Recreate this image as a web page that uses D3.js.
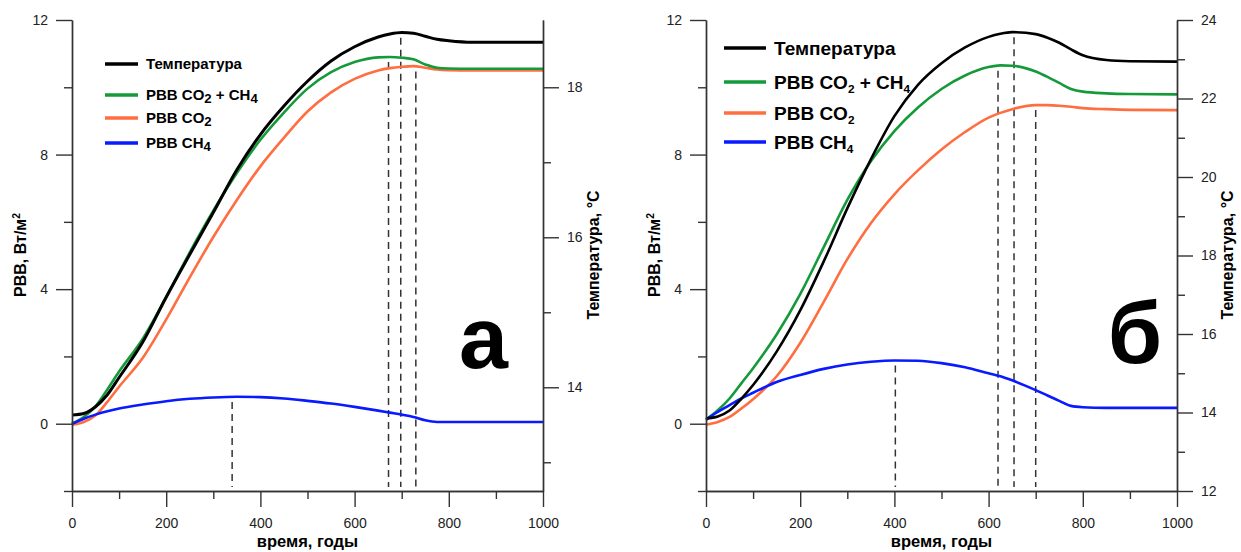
<!DOCTYPE html>
<html>
<head>
<meta charset="utf-8">
<script src="https://cdn.jsdelivr.net/npm/d3@7"></script>
<style>
body { margin: 0; background: #fff; }
svg { font-family: "Liberation Sans", Arial, sans-serif; }
</style>
</head>
<body>
<div id="chart"></div>
<script>
// panel а
var yearsA = [0, 25, 50, 75, 100, 150, 200, 250, 300, 350, 400, 450, 500, 550, 600, 650, 675, 700, 725, 750, 775, 800, 850, 900, 1000];
var tempA = [13.63, 13.65, 13.74, 13.9, 14.13, 14.6, 15.2, 15.77, 16.33, 16.9, 17.37, 17.75, 18.08, 18.35, 18.54, 18.67, 18.71, 18.73, 18.72, 18.68, 18.64, 18.62, 18.6, 18.6, 18.6];
var sumA = [0, 0.2, 0.52, 1.02, 1.55, 2.52, 3.77, 5.09, 6.33, 7.45, 8.44, 9.25, 9.96, 10.45, 10.75, 10.89, 10.9, 10.88, 10.83, 10.68, 10.58, 10.56, 10.55, 10.55, 10.55];
var co2A = [-0.03, 0.05, 0.25, 0.65, 1.1, 1.95, 3.1, 4.35, 5.55, 6.65, 7.65, 8.5, 9.28, 9.85, 10.25, 10.5, 10.57, 10.61, 10.63, 10.58, 10.53, 10.51, 10.5, 10.5, 10.5];
var ch4A = [0, 0.15, 0.27, 0.37, 0.45, 0.57, 0.67, 0.74, 0.78, 0.8, 0.79, 0.75, 0.68, 0.6, 0.5, 0.39, 0.33, 0.27, 0.2, 0.1, 0.05, 0.05, 0.05, 0.05, 0.05];
var markYearsA = [340, 672, 698, 730];
var markSeriesA = ["ch4", "sum", "temp", "co2"];

// panel б
var yearsB = [0, 25, 50, 75, 100, 150, 200, 250, 300, 350, 400, 450, 500, 550, 600, 625, 650, 700, 725, 750, 775, 800, 850, 900, 1000];
var tempB = [13.85, 13.9, 14.05, 14.35, 14.7, 15.55, 16.6, 17.85, 19.2, 20.45, 21.55, 22.35, 22.9, 23.3, 23.57, 23.65, 23.69, 23.64, 23.55, 23.42, 23.25, 23.1, 22.98, 22.95, 22.94];
var sumB = [0.12, 0.4, 0.75, 1.2, 1.65, 2.65, 3.85, 5.25, 6.65, 7.8, 8.7, 9.4, 9.95, 10.35, 10.6, 10.65, 10.64, 10.47, 10.31, 10.13, 9.95, 9.87, 9.82, 9.8, 9.79];
var co2B = [-0.03, 0.05, 0.2, 0.45, 0.73, 1.41, 2.4, 3.62, 4.89, 5.96, 6.82, 7.53, 8.15, 8.67, 9.1, 9.24, 9.35, 9.47, 9.47, 9.45, 9.42, 9.38, 9.35, 9.33, 9.32];
var ch4B = [0.12, 0.35, 0.55, 0.75, 0.92, 1.24, 1.45, 1.63, 1.76, 1.84, 1.88, 1.87, 1.8, 1.68, 1.5, 1.41, 1.29, 1.0, 0.84, 0.68, 0.53, 0.49, 0.47, 0.47, 0.47];
var markYearsB = [402, 620, 654, 700];
var markSeriesB = ["ch4", "sum", "temp", "co2"];

// axes
var xTicks = [0, 200, 400, 600, 800, 1000];
var xMinor = [100, 300, 500, 700, 900];
var rvvTicks = [0, 4, 8, 12];
var rvvMinor = [-2, 2, 6, 10];
var tempTicksA = [14, 16, 18];
var tempMinorA = [13, 15, 17];
var tempTicksB = [12, 14, 16, 18, 20, 22, 24];
var tempMinorB = [13, 15, 17, 19, 21, 23];

var colors = { temp: "#000000", sum: "#159a3a", co2: "#ff6e40", ch4: "#0a1aff" };

var W = 1241, H = 552;
var svg = d3.select("#chart").append("svg").attr("width", W).attr("height", H);
var fmt = d3.format("d");

function styleAxis(g) {
	g.attr("font-family", null).attr("font-size", null);
	g.selectAll("path, line").attr("stroke", "#333").attr("stroke-width", 1.4);
	g.selectAll("text").attr("font-size", 14).attr("fill", "#222");
}

// legend text with lowered subscripts
function legendLabel(text, parts, small) {
	var shift = small ? 4 : 3;
	var lowered = false;
	parts.forEach(function(p) {
		var ts = text.append("tspan").text(p.t);
		if (p.sub) {
			ts.attr("font-size", small ? "62%" : "88%").attr("dy", shift);
			lowered = true;
		} else if (lowered) {
			ts.attr("dy", -shift);
			lowered = false;
		}
	});
}

function drawPanel(p) {
	var x = d3.scaleLinear().domain([0, 1000]).range([p.left, p.left + 471]);
	var y = d3.scaleLinear().domain([-2, 12]).range([491, 20]);
	var yt = d3.scaleLinear().domain(p.tempDomain).range([491, 20]);
	var g = svg.append("g");

	var series = { temp: p.temp, sum: p.sum, co2: p.co2, ch4: p.ch4 };

	// dashed markers
	p.markYears.forEach(function(yr, i) {
		var key = p.markSeries[i];
		var interp = d3.scaleLinear().domain(p.years).range(series[key]);
		var top = key == "temp" ? yt(interp(yr)) : y(interp(yr));
		g.append("line")
			.attr("x1", x(yr)).attr("x2", x(yr))
			.attr("y1", top + 5).attr("y2", 487)
			.attr("stroke", "#333").attr("stroke-width", 1.5)
			.attr("stroke-dasharray", "7,5");
	});

	// curves
	["co2", "sum", "ch4", "temp"].forEach(function(key) {
		var sc = key == "temp" ? yt : y;
		var line = d3.line()
			.x(function(d, i) { return x(p.years[i]); })
			.y(function(d) { return sc(d); })
			.curve(d3.curveMonotoneX);
		g.append("path")
			.attr("d", line(series[key]))
			.attr("fill", "none")
			.attr("stroke", colors[key])
			.attr("stroke-width", key == "temp" && p.noisy ? 3 : 2.6)
			.attr("stroke-linejoin", "round");
	});

	// axes
	g.append("g").attr("transform", "translate(0,491)")
		.call(d3.axisBottom(x).tickValues(xMinor).tickSize(8).tickFormat("").tickSizeOuter(0)).call(styleAxis);
	g.append("g").attr("transform", "translate(0,491)")
		.call(d3.axisBottom(x).tickValues(xTicks).tickSize(16).tickPadding(11).tickFormat(fmt).tickSizeOuter(0)).call(styleAxis);
	g.append("g").attr("transform", "translate(" + p.left + ",0)")
		.call(d3.axisLeft(y).tickValues(rvvMinor).tickSize(8).tickFormat("").tickSizeOuter(0)).call(styleAxis);
	g.append("g").attr("transform", "translate(" + p.left + ",0)")
		.call(d3.axisLeft(y).tickValues(rvvTicks).tickSize(16).tickPadding(8).tickFormat(fmt).tickSizeOuter(0)).call(styleAxis);
	g.append("g").attr("transform", "translate(" + (p.left + 471) + ",0)")
		.call(d3.axisRight(yt).tickValues(p.tempMinor).tickSize(8).tickFormat("").tickSizeOuter(0)).call(styleAxis);
	g.append("g").attr("transform", "translate(" + (p.left + 471) + ",0)")
		.call(d3.axisRight(yt).tickValues(p.tempTicks).tickSize(16).tickPadding(8).tickFormat(fmt).tickSizeOuter(0)).call(styleAxis);

	// axis titles
	g.append("text")
		.attr("x", p.left + 235.5).attr("y", 547)
		.attr("text-anchor", "middle").attr("font-weight", "bold").attr("font-size", 16.5)
		.text("время, годы");
	var lt = g.append("text")
		.attr("transform", "translate(" + (p.left - 46) + ",255) rotate(-90)")
		.attr("text-anchor", "middle").attr("font-weight", "bold").attr("font-size", 16);
	lt.append("tspan").text("РВВ, Вт/м");
	lt.append("tspan").attr("font-size", "65%").attr("dy", -6).text("2");
	g.append("text")
		.attr("transform", "translate(" + (p.left + 527) + ",255) rotate(-90)")
		.attr("text-anchor", "middle").attr("font-weight", "bold").attr("font-size", 16)
		.text("Температура, °C");

	// panel letter
	g.append("text")
		.attr("x", p.letterX).attr("y", p.letterY)
		.attr("text-anchor", "end").attr("font-weight", "bold").attr("font-size", 88)
		.text(p.letter);

	// legend
	var labels = [
		[{ t: "Температура" }],
		[{ t: "РВВ CO" }, { t: "2", sub: true }, { t: " + CH" }, { t: "4", sub: true }],
		[{ t: "РВВ CO" }, { t: "2", sub: true }],
		[{ t: "РВВ CH" }, { t: "4", sub: true }]
	];
	var keys = ["temp", "sum", "co2", "ch4"];
	keys.forEach(function(key, i) {
		var ly = p.legY[i];
		g.append("line")
			.attr("x1", p.legX).attr("x2", p.legX + p.legLen)
			.attr("y1", ly).attr("y2", ly)
			.attr("stroke", colors[key]).attr("stroke-width", 3.4);
		var t = g.append("text")
			.attr("x", p.legX + p.legLen + 8).attr("y", ly + p.legFont * 0.36)
			.attr("font-weight", "bold").attr("font-size", p.legFont);
		legendLabel(t, labels[i], p.smallSub);
	});
}

drawPanel({
	left: 72, years: yearsA, temp: tempA, sum: sumA, co2: co2A, ch4: ch4A,
	tempDomain: [12.617, 18.897], tempTicks: tempTicksA, tempMinor: tempMinorA,
	markYears: markYearsA, markSeries: markSeriesA, noisy: true,
	letter: "а", letterX: 508, letterY: 368,
	legX: 105, legLen: 33, legY: [64, 95, 118, 143], legFont: 15, smallSub: false
});

drawPanel({
	left: 706, years: yearsB, temp: tempB, sum: sumB, co2: co2B, ch4: ch4B,
	tempDomain: [12, 24], tempTicks: tempTicksB, tempMinor: tempMinorB,
	markYears: markYearsB, markSeries: markSeriesB, noisy: false,
	letter: "б", letterX: 1162, letterY: 363,
	legX: 724, legLen: 42, legY: [48, 82, 113, 142], legFont: 19, smallSub: true
});
</script>
</body>
</html>
